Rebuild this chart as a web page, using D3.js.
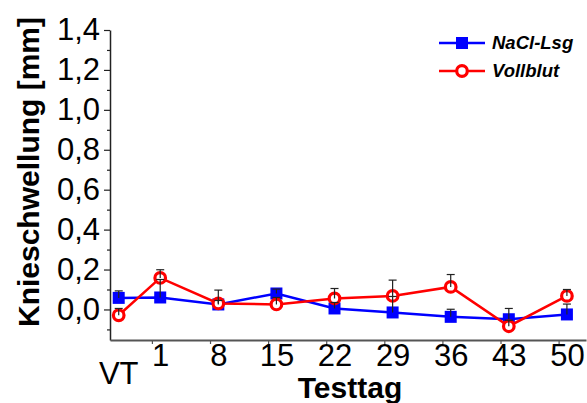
<!DOCTYPE html>
<html>
<head>
<meta charset="utf-8">
<script src="https://cdn.jsdelivr.net/npm/d3@7"></script>
<style>
  body { margin: 0; background: #fff; }
  svg { font-family: "Liberation Sans", Arial, sans-serif; }
</style>
</head>
<body>
<svg id="chart" width="587" height="403"></svg>
<script>
// test days (VT = Vortest, plotted at day -4)
var days = [-4, 1, 8, 15, 22, 29, 36, 43, 50];
var dayLabels = ["VT", "1", "8", "15", "22", "29", "36", "43", "50"];
var tickDays = [0, 7, 14, 21, 28, 35, 42, 49];

var nacl = [0.058, 0.06, 0.025, 0.08, 0.005, -0.015, -0.037, -0.049, -0.025];
var naclErr = [0.035, 0.09, 0.02, 0.022, 0.03, 0.08, 0.038, 0.054, 0.052];
var voll = [-0.029, 0.158, 0.03, 0.025, 0.055, 0.068, 0.113, -0.084, 0.068];
var vollErr = [0.034, 0.041, 0.067, 0.035, 0.05, 0.079, 0.062, 0.03, 0.032];

var yTicks = [0, 0.2, 0.4, 0.6, 0.8, 1.0, 1.2, 1.4];
var yMinor = [-0.1, 0.1, 0.3, 0.5, 0.7, 0.9, 1.1, 1.3];

var svg = d3.select("#chart");

var x = d3.scaleLinear()
    .domain([-5.05, 52.3])
    .range([110, 586]);

var y = d3.scaleLinear()
    .domain([-0.153, 1.4])
    .range([340, 30]);

var comma = function(v) { return d3.format(".1f")(v).replace(".", ","); };

// y axis
var yAxis = svg.append("g")
    .attr("transform", "translate(110,0)")
    .call(d3.axisLeft(y).tickValues(yTicks).tickFormat(comma).tickSize(6).tickPadding(4).tickSizeOuter(0));
yAxis.selectAll("text").attr("font-size", 31).attr("fill", "#000");
yAxis.select(".domain").attr("stroke", "#222").attr("stroke-width", 1.5);
yAxis.selectAll(".tick line").attr("stroke", "#222").attr("stroke-width", 1.2);

svg.append("g")
    .attr("transform", "translate(110,0)")
    .call(d3.axisLeft(y).tickValues(yMinor).tickFormat("").tickSize(3).tickSizeOuter(0))
    .call(function(g) { g.select(".domain").remove(); })
    .selectAll("line").attr("stroke", "#222").attr("stroke-width", 1.2);

// x axis
var xAxis = svg.append("g")
    .attr("transform", "translate(0,340)")
    .call(d3.axisBottom(x).tickValues(tickDays).tickFormat("").tickSize(4).tickSizeOuter(0));
xAxis.select(".domain").attr("stroke", "#555").attr("stroke-width", 2);
xAxis.selectAll(".tick line").attr("stroke", "#555").attr("stroke-width", 1.2);

var xLab = svg.append("g")
    .attr("transform", "translate(0,340)")
    .call(d3.axisBottom(x).tickValues(days.slice(1)).tickFormat(function(d, i) { return dayLabels[i + 1]; }).tickSize(0).tickPadding(4));
xLab.select(".domain").remove();
xLab.selectAll("text").attr("font-size", 31).attr("fill", "#000");

svg.append("text")
    .attr("x", x(days[0]))
    .attr("y", 384)
    .attr("text-anchor", "middle")
    .attr("font-size", 31)
    .text(dayLabels[0]);

// axis titles
svg.append("text")
    .attr("x", 350)
    .attr("y", 398)
    .attr("text-anchor", "middle")
    .attr("font-size", 30)
    .attr("font-weight", "bold")
    .text("Testtag");

svg.append("text")
    .attr("transform", "translate(39,172) rotate(-90)")
    .attr("text-anchor", "middle")
    .attr("font-size", 30)
    .attr("font-weight", "bold")
    .text("Knieschwellung [mm]");

var line = d3.line()
    .x(function(d, i) { return x(days[i]); })
    .y(function(d) { return y(d); });

// NaCl series
svg.append("path")
    .datum(nacl)
    .attr("d", line)
    .attr("fill", "none")
    .attr("stroke", "#0000ff")
    .attr("stroke-width", 2.5);

svg.selectAll(".sq")
    .data(nacl)
    .enter()
    .append("rect")
    .attr("class", "sq")
    .attr("x", function(d, i) { return x(days[i]) - 6; })
    .attr("y", function(d) { return y(d) - 6; })
    .attr("width", 12)
    .attr("height", 12)
    .attr("fill", "#0000ff");

// Vollblut series
svg.append("path")
    .datum(voll)
    .attr("d", line)
    .attr("fill", "none")
    .attr("stroke", "#ff0000")
    .attr("stroke-width", 2.5);

svg.selectAll(".circ")
    .data(voll)
    .enter()
    .append("circle")
    .attr("class", "circ")
    .attr("cx", function(d, i) { return x(days[i]); })
    .attr("cy", function(d) { return y(d); })
    .attr("r", 5.3)
    .attr("fill", "#fff")
    .attr("stroke", "#ff0000")
    .attr("stroke-width", 3.2);

// error bars (upper only)
var drawErr = function(vals, errs) {
    var g = svg.append("g").attr("stroke", "#222").attr("stroke-width", 1.2);
    vals.forEach(function(v, i) {
        var cx = x(days[i]);
        g.append("line")
            .attr("x1", cx).attr("x2", cx)
            .attr("y1", y(v)).attr("y2", y(v + errs[i]));
        g.append("line")
            .attr("x1", cx - 4).attr("x2", cx + 4)
            .attr("y1", y(v + errs[i])).attr("y2", y(v + errs[i]));
    });
};
drawErr(nacl, naclErr);
drawErr(voll, vollErr);

// legend
var legend = svg.append("g");
var items = [
    { name: "NaCl-Lsg", color: "#0000ff", type: "square", y: 43 },
    { name: "Vollblut", color: "#ff0000", type: "circle", y: 71 }
];
items.forEach(function(it) {
    legend.append("line")
        .attr("x1", 439).attr("x2", 485)
        .attr("y1", it.y).attr("y2", it.y)
        .attr("stroke", it.color)
        .attr("stroke-width", 2.5);
    if (it.type === "square") {
        legend.append("rect")
            .attr("x", 456).attr("y", it.y - 6)
            .attr("width", 12).attr("height", 12)
            .attr("fill", it.color);
    } else {
        legend.append("circle")
            .attr("cx", 462).attr("cy", it.y)
            .attr("r", 5.3)
            .attr("fill", "#fff")
            .attr("stroke", it.color)
            .attr("stroke-width", 3.2);
    }
    legend.append("text")
        .attr("x", 492)
        .attr("y", it.y + 6)
        .attr("font-size", 18.5)
        .attr("font-weight", "bold")
        .attr("font-style", "italic")
        .text(it.name);
});
</script>
</body>
</html>
